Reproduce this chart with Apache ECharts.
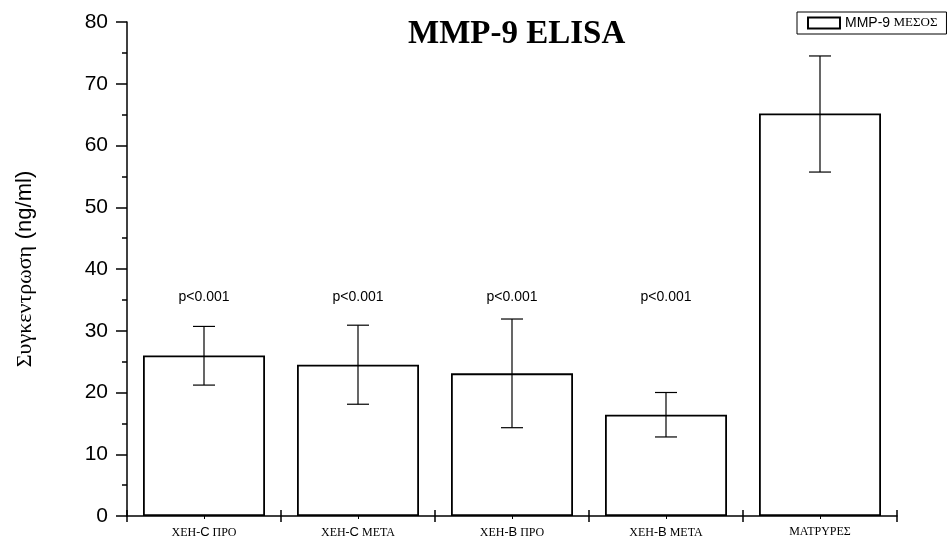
<!DOCTYPE html>
<html>
<head>
<meta charset="utf-8">
<title>MMP-9 ELISA</title>
<script src="https://cdn.jsdelivr.net/npm/echarts@6/dist/echarts.min.js"></script>
<style>
  html, body { margin: 0; padding: 0; background: #fff; }
  #chart { width: 952px; height: 543px; }
</style>
</head>
<body>
<div id="chart"></div>
<script>
// categories and values
const categories = ['ΧΕΗ-C ΠΡΟ', 'ΧΕΗ-C ΜΕΤΑ', 'ΧΕΗ-B ΠΡΟ', 'ΧΕΗ-B ΜΕΤΑ', 'ΜΑΤΡΥΡΕΣ'];
const means = [26.0, 24.5, 23.1, 16.4, 65.2];
const lower = [21.2, 18.1, 14.3, 12.8, 55.7];
const upper = [30.7, 30.9, 31.9, 20.0, 74.5];
const pLabels = ['p<0.001', 'p<0.001', 'p<0.001', 'p<0.001', ''];
const pLevel = 35.4;
const yTicks = { min: 0, max: 80, interval: 10 };

const SERIF = 'Liberation Serif';
const SANS = 'Liberation Sans';

(function () {
    const chart = echarts.init(document.getElementById('chart'));

    // latin letters in sans, greek in serif (as in the original)
    const labelFmt = v => v.split(/([A-Z]+)/).filter(s => s).map(s =>
        /^[A-Z]+$/.test(s) ? '{s|' + s + '}' : '{g|' + s + '}').join('');

    const baseX = {
        type: 'category',
        data: categories,
        position: 'bottom',
        boundaryGap: true,
        axisLine: { show: false },
        axisLabel: { show: false },
        splitLine: { show: false }
    };

    const option = {
        animation: false,
        title: {
            text: 'MMP-9 ELISA',
            left: 403,
            top: 13,
            textStyle: { fontFamily: SERIF, fontWeight: 'bold', fontSize: 33, color: '#000' }
        },
        legend: {
            data: ['MMP-9 ΜΕΣΟΣ'],
            left: 797,
            top: 12,
            orient: 'horizontal',
            padding: [4, 9, 4, 10],
            borderColor: '#000',
            borderWidth: 1,
            icon: 'rect',
            itemWidth: 32,
            itemHeight: 11,
            selectedMode: false,
            formatter: () => '{a|MMP-9} {b|ΜΕΣΟΣ}',
            textStyle: {
                color: '#000',
                rich: {
                    a: { fontFamily: SANS, fontSize: 14, color: '#000' },
                    b: { fontFamily: SERIF, fontSize: 13, color: '#000' }
                }
            }
        },
        grid: { left: 127, right: 55, top: 22, bottom: 27 },
        xAxis: [
            // main axis: line, boundary ticks below, labels
            Object.assign({}, baseX, {
                axisLine: { show: true, lineStyle: { color: '#000', width: 1.5 } },
                axisTick: { show: true, interval: 0, alignWithLabel: false, length: 6,
                    lineStyle: { color: '#000', width: 1.5 } },
                axisLabel: {
                    show: true, interval: 0, margin: 10, formatter: labelFmt,
                    rich: {
                        g: { fontFamily: SERIF, fontSize: 12, color: '#000' },
                        s: { fontFamily: SANS, fontSize: 13, color: '#000' }
                    }
                }
            }),
            // boundary ticks above the line
            Object.assign({}, baseX, {
                axisTick: { show: true, inside: true, interval: 0, alignWithLabel: false, length: 6,
                    lineStyle: { color: '#000', width: 1.5 } }
            }),
            // small ticks at category centres
            Object.assign({}, baseX, {
                axisTick: { show: true, interval: 0, alignWithLabel: true, length: 3,
                    lineStyle: { color: '#000', width: 1 } }
            })
        ],
        yAxis: {
            type: 'value',
            min: yTicks.min,
            max: yTicks.max,
            interval: yTicks.interval,
            name: '{g|Συγκεντρωση}  {a|(ng/ml)}',
            nameLocation: 'middle',
            nameGap: 91,
            nameTextStyle: {
                rich: {
                    g: { fontFamily: SERIF, fontSize: 22, color: '#000' },
                    a: { fontFamily: SANS, fontSize: 22, color: '#000' }
                }
            },
            axisLine: { show: true, lineStyle: { color: '#000', width: 1.5 } },
            axisTick: { show: true, length: 11, lineStyle: { color: '#000', width: 1.5 } },
            minorTick: { show: true, splitNumber: 2, length: 5, lineStyle: { color: '#000', width: 1.5 } },
            splitLine: { show: false },
            axisLabel: { fontFamily: SANS, fontSize: 21, color: '#000', margin: 19 }
        },
        series: [
            {
                name: 'MMP-9 ΜΕΣΟΣ',
                type: 'bar',
                data: means,
                barWidth: 122,
                itemStyle: { color: '#fff', borderColor: '#000', borderWidth: 1.8 }
            },
            {
                // error bars
                type: 'custom',
                name: 'err',
                data: categories.map((c, i) => [i, lower[i], upper[i]]),
                encode: { x: 0, y: [1, 2] },
                z: 5,
                renderItem: (params, api) => {
                    const i = api.value(0);
                    const lo = api.coord([i, api.value(1)]);
                    const hi = api.coord([i, api.value(2)]);
                    const hw = 11;
                    const style = { stroke: '#000', lineWidth: 1.2 };
                    return {
                        type: 'group',
                        children: [
                            { type: 'line', shape: { x1: lo[0], y1: lo[1], x2: hi[0], y2: hi[1] }, style },
                            { type: 'line', shape: { x1: hi[0] - hw, y1: hi[1], x2: hi[0] + hw, y2: hi[1] }, style },
                            { type: 'line', shape: { x1: lo[0] - hw, y1: lo[1], x2: lo[0] + hw, y2: lo[1] }, style }
                        ]
                    };
                }
            },
            {
                // significance labels
                type: 'custom',
                name: 'p',
                data: pLabels.map((t, i) => [i, pLevel]),
                encode: { x: 0, y: 1 },
                z: 5,
                renderItem: (params, api) => {
                    const p = api.coord([api.value(0), api.value(1)]);
                    return {
                        type: 'text',
                        x: p[0], y: p[1],
                        style: {
                            text: pLabels[params.dataIndex],
                            fontFamily: SANS, fontSize: 14, fill: '#000',
                            align: 'center', verticalAlign: 'middle'
                        }
                    };
                }
            }
        ]
    };

    chart.setOption(option);
    window.addEventListener('resize', () => chart.resize());
})();
</script>
</body>
</html>
